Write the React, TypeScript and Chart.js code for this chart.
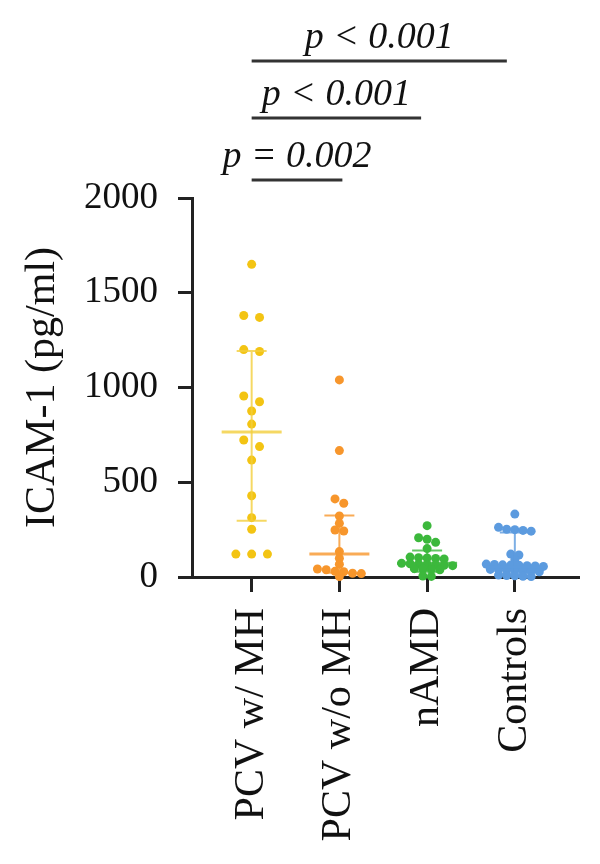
import { useEffect, useRef } from "react";
import { Chart, registerables } from "chart.js";

Chart.register(...registerables);

// Group names along the x axis
const groupLabels = ["PCV w/ MH", "PCV w/o MH", "nAMD", "Controls"];

// ICAM-1 concentrations (pg/ml) for each subject
const pcvWithMH = [1650, 1380, 1370, 1200, 1190, 955, 925, 876, 807, 723, 688, 617, 429, 313, 252, 121, 121, 121];
const pcvWithoutMH = [1040, 667, 412, 389, 322, 283, 248, 243, 134, 99, 67, 42, 38, 30, 28, 20, 18, 2];
const nAMD = [271, 207, 199, 183, 150, 105, 102, 100, 98, 95, 72, 70, 68, 66, 64, 62, 60, 44, 42, 40, 38, 5, 3];
const controls = [332, 262, 252, 250, 246, 242, 121, 116, 93, 68, 66, 64, 63, 62, 60, 58, 56, 40, 38, 36, 34, 32, 30, 28, 10, 8, 6, 4, 2];

// Median and interquartile range per group
const medians = [765, 121, 72, 54];
const lowerQuartiles = [297, 22, 28, 18];
const upperQuartiles = [1193, 324, 140, 235];

// Value axis ticks
const yTicks = [0, 500, 1000, 1500, 2000];

// Pairwise comparisons (group indices) and their p-values
const compareFrom = [0, 0, 0];
const compareTo = [1, 2, 3];
const compareLabels = ["p = 0.002", "p < 0.001", "p < 0.001"];

const groupValues = [pcvWithMH, pcvWithoutMH, nAMD, controls];
const groupColors = ["#F3C413", "#F7962C", "#3CB83C", "#5C9BDF"];
const barColors = ["rgba(243,206,60,0.8)", "rgba(247,150,44,0.8)", "rgba(60,184,60,0.8)", "rgba(92,155,223,0.8)"];

// Dot spreading: values closer than rowGap share a row, spaced by step (x units)
const rowGaps = [40, 25, 25, 25];
const rowSteps = [0.18, 0.1, 0.097, 0.093];
const bracketRise = [18, 80, 137];
const bracketEndTrim = [-3, 6, 8];

const SERIF = "'Liberation Serif', 'Times New Roman', serif";

function spreadPoints(values: number[], center: number, rowGap: number, step: number) {
  const sorted = [...values].sort((a, b) => b - a);
  const rows: number[][] = [];
  for (const v of sorted) {
    const row = rows[rows.length - 1];
    if (row && row[0] - v < rowGap) row.push(v);
    else rows.push([v]);
  }
  const pts: { x: number; y: number }[] = [];
  for (const row of rows) {
    const n = row.length;
    row.forEach((v, i) => pts.push({ x: center + (i - (n - 1) / 2) * step, y: v }));
  }
  return pts;
}

const overlayPlugin = {
  id: "overlay",
  afterDatasetsDraw(chart: any) {
    const { ctx, scales } = chart;
    const xs = scales.x;
    const ys = scales.y;
    ctx.save();
    groupLabels.forEach((_, i) => {
      const cx = xs.getPixelForValue(i + 1);
      const yMed = ys.getPixelForValue(medians[i]);
      const yLo = ys.getPixelForValue(lowerQuartiles[i]);
      const yHi = ys.getPixelForValue(upperQuartiles[i]);
      ctx.strokeStyle = barColors[i];
      ctx.lineWidth = 2;
      ctx.beginPath();
      ctx.moveTo(cx, yLo);
      ctx.lineTo(cx, yHi);
      ctx.moveTo(cx - 15, yLo);
      ctx.lineTo(cx + 15, yLo);
      ctx.moveTo(cx - 15, yHi);
      ctx.lineTo(cx + 15, yHi);
      ctx.stroke();
      ctx.lineWidth = 3;
      ctx.beginPath();
      ctx.moveTo(cx - 30, yMed);
      ctx.lineTo(cx + 30, yMed);
      ctx.stroke();
    });
    ctx.restore();
  },
  afterDraw(chart: any) {
    const { ctx, scales, chartArea } = chart;
    const xs = scales.x;
    ctx.save();
    // y-axis title
    ctx.translate(54, (chartArea.top + chartArea.bottom) / 2);
    ctx.rotate(-Math.PI / 2);
    ctx.fillStyle = "#111";
    ctx.font = `42px ${SERIF}`;
    ctx.textAlign = "center";
    ctx.textBaseline = "alphabetic";
    ctx.fillText("ICAM-1 (pg/ml)", 0, 0);
    ctx.restore();

    // significance brackets
    ctx.save();
    ctx.strokeStyle = "#333";
    ctx.fillStyle = "#111";
    ctx.lineWidth = 3;
    ctx.font = `italic 38px ${SERIF}`;
    ctx.textAlign = "center";
    ctx.textBaseline = "alphabetic";
    compareLabels.forEach((label, k) => {
      const x1 = xs.getPixelForValue(compareFrom[k] + 1);
      const x2 = xs.getPixelForValue(compareTo[k] + 1) - bracketEndTrim[k];
      const yLine = chartArea.top - bracketRise[k];
      ctx.beginPath();
      ctx.moveTo(x1, yLine);
      ctx.lineTo(x2, yLine);
      ctx.stroke();
      ctx.fillText(label, (x1 + x2) / 2, yLine - 13);
    });
    ctx.restore();
  },
};

export default function App() {
  const canvasRef = useRef<HTMLCanvasElement | null>(null);

  useEffect(() => {
    if (!canvasRef.current) return;
    const datasets = groupValues.map((vals, i) => ({
      label: groupLabels[i],
      data: spreadPoints(vals, i + 1, rowGaps[i], rowSteps[i]),
      backgroundColor: groupColors[i],
      borderWidth: 0,
      pointRadius: 4.5,
      clip: false as any,
    }));

    const chart = new Chart(canvasRef.current, {
      type: "scatter",
      data: { datasets },
      options: {
        responsive: false,
        animation: false,
        layout: { padding: { top: 198, right: 22, bottom: 0, left: 0 } },
        plugins: { legend: { display: false }, tooltip: { enabled: false } },
        scales: {
          x: {
            type: "linear",
            min: 0.32,
            max: 4.72,
            afterBuildTicks: (scale: any) => {
              scale.ticks = groupLabels.map((_, i) => ({ value: i + 1 }));
            },
            afterFit: (scale: any) => {
              scale.height = 287;
            },
            ticks: {
              autoSkip: false,
              minRotation: 90,
              maxRotation: 90,
              padding: 16,
              color: "#111",
              font: { family: SERIF, size: 42 },
              callback: (v: any) => groupLabels[Number(v) - 1] ?? "",
            },
            grid: { drawOnChartArea: false, drawTicks: true, tickLength: 15, lineWidth: 3, color: "#222" },
            border: { display: true, color: "#222", width: 3 },
          },
          y: {
            min: 0,
            max: 2000,
            afterBuildTicks: (scale: any) => {
              scale.ticks = yTicks.map((v) => ({ value: v }));
            },
            afterFit: (scale: any) => {
              scale.width = 192;
            },
            ticks: {
              padding: 20,
              color: "#111",
              font: { family: SERIF, size: 37 },
              callback: (v: any) => String(v),
            },
            grid: { drawOnChartArea: false, drawTicks: true, tickLength: 14, lineWidth: 3, color: "#222" },
            border: { display: true, color: "#222", width: 3 },
          },
        },
      },
      plugins: [overlayPlugin],
    });
    return () => chart.destroy();
  }, []);

  return (
    <div style={{ position: "absolute", left: 0, top: 0, width: 600, height: 864, background: "#fff" }}>
      <canvas ref={canvasRef} width={600} height={864} />
    </div>
  );
}
